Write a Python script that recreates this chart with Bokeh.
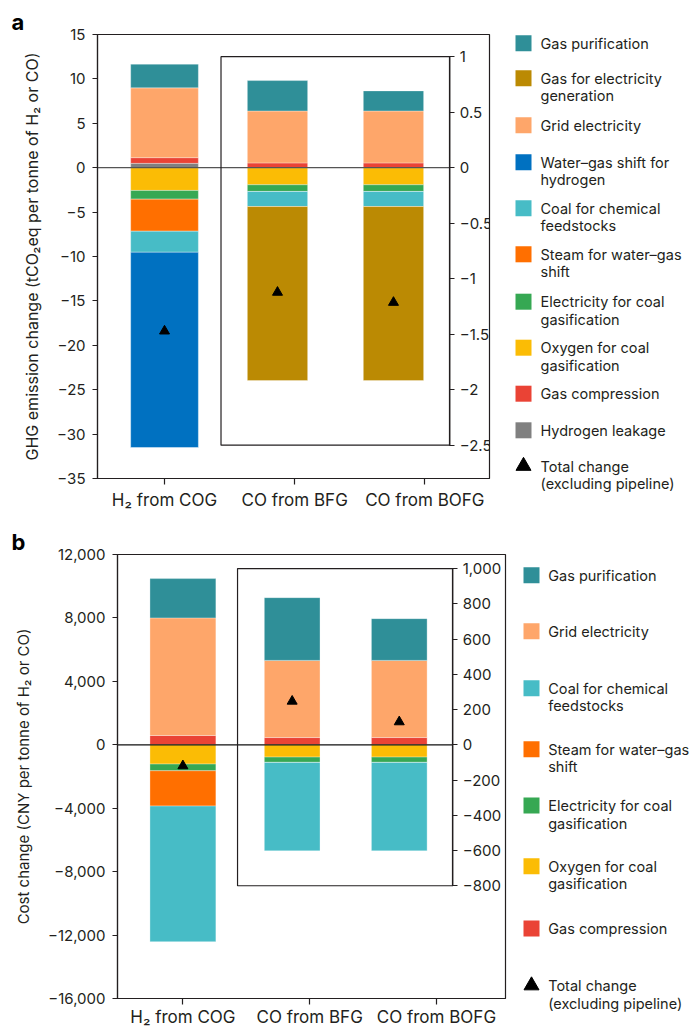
import numpy as np
from bokeh.plotting import figure
from bokeh.models import (Range1d, LinearAxis, FixedTicker, BoxAnnotation,
                          ColumnDataSource)
from bokeh.layouts import column, row
from bokeh.embed import file_html
from bokeh.resources import INLINE
from bokeh.core.properties import value

FONT = "Inter"

categories = ["H₂ from COG", "CO from BFG", "CO from BOFG"]

# ---- panel a: GHG emission change (H2 read on left axis, CO on right axis)
ghg_gas_purification = [2.67, 0.274, 0.181]
ghg_gas_for_electricity = [0.0, -1.567, -1.567]
ghg_grid_electricity = [7.86, 0.468, 0.468]
ghg_water_gas_shift = [-22.01, 0.0, 0.0]
ghg_coal_feedstocks = [-2.37, -0.136, -0.136]
ghg_steam_shift = [-3.61, 0.0, 0.0]
ghg_electricity_gasification = [-0.98, -0.060, -0.060]
ghg_oxygen_gasification = [-2.56, -0.154, -0.154]
ghg_gas_compression = [0.64, 0.043, 0.043]
ghg_hydrogen_leakage = [0.49, 0.0, 0.0]
ghg_total = [-18.4, -1.123, -1.214]
ghg_left_ticks = [-35, -30, -25, -20, -15, -10, -5, 0, 5, 10, 15]
ghg_right_ticks = [-2.5, -2, -1.5, -1, -0.5, 0, 0.5, 1]

# ---- panel b: cost change (H2 read on left axis, CO on right axis)
cost_gas_purification = [2477, 356, 237]
cost_grid_electricity = [7417, 438, 438]
cost_coal_feedstocks = [-8551, -502, -502]
cost_steam_shift = [-2225, 0, 0]
cost_electricity_gasification = [-422, -30, -30]
cost_oxygen_gasification = [-1216, -70, -70]
cost_gas_compression = [586, 41, 41]
cost_total = [-1330, 247, 130]
cost_left_ticks = [-16000, -12000, -8000, -4000, 0, 4000, 8000, 12000]
cost_right_ticks = [-800, -600, -400, -200, 0, 200, 400, 600, 800, 1000]

COLORS = {
    "purif": "#2f8f98", "gas_elec": "#bb8a03", "grid": "#fea66a",
    "wgs": "#0071c1", "coal": "#47bcc6", "steam": "#ff6f00",
    "elec": "#36a853", "oxygen": "#fbbc05", "comp": "#ea4335",
    "leak": "#808080",
}
LABELS = {
    "purif": ["Gas purification"],
    "gas_elec": ["Gas for electricity", "generation"],
    "grid": ["Grid electricity"],
    "wgs": ["Water–gas shift for", "hydrogen"],
    "coal": ["Coal for chemical", "feedstocks"],
    "steam": ["Steam for water–gas", "shift"],
    "elec": ["Electricity for coal", "gasification"],
    "oxygen": ["Oxygen for coal", "gasification"],
    "comp": ["Gas compression"],
    "leak": ["Hydrogen leakage"],
    "total": ["Total change", "(excluding pipeline)"],
}
TEXT = "#231f20"


def fmt(v):
    s = f"{v:,}" if isinstance(v, int) else f"{v:g}"
    return s.replace("-", "−")


def style_axis(ax, size="15px", label_size="16px"):
    ax.axis_line_color = TEXT
    ax.axis_line_width = 1.2
    ax.major_tick_line_color = TEXT
    ax.major_tick_line_width = 1.2
    ax.major_tick_in = 0
    ax.major_tick_out = 5
    ax.minor_tick_line_color = None
    ax.major_label_text_font = FONT
    ax.major_label_text_font_size = size
    ax.major_label_text_color = TEXT
    ax.axis_label_text_font = FONT
    ax.axis_label_text_font_style = "normal"
    ax.axis_label_text_font_size = label_size
    ax.axis_label_text_color = TEXT


def make_panel(letter, series, pos_order, neg_order, totals,
               left_ticks, right_ticks, ylabel, cfg):
    n = len(categories)
    x_main = [0]
    x_inset = list(range(n - 1))
    p = figure(frame_width=cfg["fw"], frame_height=cfg["fh"],
               x_range=Range1d(*cfg["xr"]), y_range=Range1d(*cfg["yr"]),
               min_border_left=cfg["bl"], min_border_right=cfg["br"],
               min_border_top=cfg["bt"], min_border_bottom=cfg["bb"],
               output_backend="svg", toolbar_location=None)
    p.extra_x_ranges = {"inset": Range1d(*cfg["xr_inset"])}
    p.extra_y_ranges = {"inset": Range1d(*cfg["yr_inset"])}
    p.grid.visible = False
    p.outline_line_color = TEXT
    p.outline_line_width = 1.2
    p.background_fill_color = "white"
    p.border_fill_color = "white"

    # panel letter
    p.title.text = letter
    p.title.align = "left"
    p.title.offset = cfg["lab_x"]
    p.title.standoff = 0
    p.title.text_font = FONT
    p.title.text_font_size = "22px"
    p.title.text_font_style = "bold"
    p.title.text_color = "black"

    for order in (pos_order, neg_order):
        base = np.zeros(n)
        for key in order:
            vals = np.array(series[key], dtype=float)
            bottom = base.copy()
            top = base + vals
            base = top
            for sel, xs, kw in ((slice(0, 1), x_main, {}),
                                (slice(1, n), x_inset,
                                 dict(x_range_name="inset", y_range_name="inset"))):
                src = ColumnDataSource(dict(x=xs, top=top[sel], bottom=bottom[sel]))
                p.vbar(x="x", top="top", bottom="bottom", width=0.52,
                       source=src, fill_color=COLORS[key], line_color="white",
                       line_alpha=0.4, line_width=0.8, **kw)

    # zero line, ending at the inset axis
    p.segment(x0=[cfg["xr"][0]], x1=[cfg["axis_x"]], y0=[0], y1=[0],
              line_color=cfg["zero_color"], line_width=1.3)

    p.scatter(x=x_main, y=totals[:1], marker="triangle", size=10,
              fill_color="black", line_color="black")
    p.scatter(x=x_inset, y=totals[1:], marker="triangle", size=10,
              fill_color="black", line_color="black",
              x_range_name="inset", y_range_name="inset")

    p.add_layout(BoxAnnotation(left=cfg["box_left"], right=cfg["axis_x"],
                               top=right_ticks[-1], bottom=right_ticks[0],
                               y_range_name="inset", fill_alpha=0,
                               line_color=TEXT, line_alpha=1.0, line_width=1.2))

    p.xaxis.ticker = FixedTicker(ticks=list(range(n)))
    p.xaxis.major_label_overrides = {i: c for i, c in enumerate(categories)}
    p.yaxis.ticker = FixedTicker(ticks=left_ticks)
    p.yaxis.major_label_overrides = {t: fmt(t) for t in left_ticks}
    p.yaxis.axis_label = ylabel
    style_axis(p.xaxis[0], "17px")
    style_axis(p.yaxis[0], "15px", cfg["ylab_size"])
    p.xaxis.major_tick_out = 6
    p.xaxis.major_label_standoff = cfg["xstand"]
    p.yaxis.major_label_standoff = 7
    p.yaxis.axis_label_standoff = 12

    ax = LinearAxis(y_range_name="inset", fixed_location=cfg["axis_x"],
                    bounds=(right_ticks[0], right_ticks[-1]),
                    ticker=FixedTicker(ticks=right_ticks),
                    major_label_overrides={t: fmt(t) for t in right_ticks})
    style_axis(ax)
    ax.major_label_standoff = 5
    p.add_layout(ax, "right")
    return p


def make_legend(keys, rows, cfg):
    """Legend drawn in its own figure, in pixel units (y downward)."""
    w, h = cfg["w"], cfg["h"]
    lg = figure(width=w, height=h, x_range=Range1d(0, w), y_range=Range1d(h, 0),
                min_border=0, x_axis_location=None, y_axis_location=None,
                output_backend="svg", toolbar_location=None)
    lg.frame_align = False
    lg.grid.visible = False
    lg.outline_line_color = None
    sx, tx, dy = cfg["sx"], cfg["tx"], cfg["dy"]
    sw_x, sw_y, sw_c = [], [], []
    t_x, t_y, t_s = [], [], []
    for key, y in zip(keys, rows):
        if key in COLORS:
            sw_x.append(sx); sw_y.append(y); sw_c.append(COLORS[key])
        for j, line in enumerate(LABELS[key]):
            t_x.append(tx); t_y.append(y + j * dy); t_s.append(line)
    lg.rect(x=sw_x, y=sw_y, width=16, height=16, fill_color=sw_c, line_color=None)
    lg.scatter(x=[sx], y=[rows[-1]], marker="triangle", size=15,
               fill_color="black", line_color="black")
    lg.text(x=t_x, y=t_y, text=t_s, text_font=value(FONT),
            text_font_size=value(cfg["fs"]), text_color=TEXT,
            text_baseline="middle", text_align="left")
    return lg


ghg_series = {
    "purif": ghg_gas_purification, "gas_elec": ghg_gas_for_electricity,
    "grid": ghg_grid_electricity, "wgs": ghg_water_gas_shift,
    "coal": ghg_coal_feedstocks, "steam": ghg_steam_shift,
    "elec": ghg_electricity_gasification, "oxygen": ghg_oxygen_gasification,
    "comp": ghg_gas_compression, "leak": ghg_hydrogen_leakage,
}
cost_series = {
    "purif": cost_gas_purification, "grid": cost_grid_electricity,
    "coal": cost_coal_feedstocks, "steam": cost_steam_shift,
    "elec": cost_electricity_gasification, "oxygen": cost_oxygen_gasification,
    "comp": cost_gas_compression,
}

cfg_a = dict(fw=392, fh=444, xr=(-0.515, 2.497), xr_inset=(-1.552, 1.828),
             yr=(-35, 15), yr_inset=(-2.8, 1.2), axis_x=2.192, box_left=0.434,
             bl=97, br=10, bt=34, bb=32, xstand=5, zero_color="#555555",
             lab_x=-86, ylab_size="16px")
cfg_b = dict(fw=388, fh=444, xr=(-0.516, 2.545), xr_inset=(-1.631, 1.992),
             yr=(-16000, 12000), yr_inset=(-1440, 1080), axis_x=2.129, box_left=0.431,
             bl=117, br=10, bt=42, bb=29, xstand=2, zero_color="#111111",
             lab_x=-106, ylab_size="15px")

p_a = make_panel("a", ghg_series,
                 ["leak", "comp", "grid", "purif"],
                 ["oxygen", "elec", "steam", "coal", "wgs", "gas_elec"],
                 ghg_total, ghg_left_ticks, ghg_right_ticks,
                 "GHG emission change (tCO₂eq per tonne of H₂ or CO)", cfg_a)
p_b = make_panel("b", cost_series,
                 ["comp", "grid", "purif"],
                 ["oxygen", "elec", "steam", "coal"],
                 cost_total, cost_left_ticks, cost_right_ticks,
                 "Cost change (CNY per tonne of H₂ or CO)", cfg_b)

legend_keys_a = ["purif", "gas_elec", "grid", "wgs", "coal", "steam", "elec",
                 "oxygen", "comp", "leak", "total"]
legend_keys_b = ["purif", "grid", "coal", "steam", "elec", "oxygen", "comp", "total"]
# legend row positions (layout, pixels from the top of each legend area)
rows_a = [42.7, 77.7, 124.7, 161.8, 207.8, 253.8, 301.2, 347.2, 393.2, 429.8, 465.5]
rows_b = [62.8, 118.8, 175.8, 236.8, 293.0, 353.8, 416.0, 473.0]

leg_a = make_legend(legend_keys_a, rows_a,
                    dict(w=193, h=510, sx=24, tx=41, dy=17.6, fs="14.5px"))
leg_b = make_legend(legend_keys_b, rows_b,
                    dict(w=177, h=515, sx=16, tx=32.7, dy=17.6, fs="14.5px"))

layout = column(row(p_a, leg_a, spacing=0), row(p_b, leg_b, spacing=0), spacing=0)
open("out.html", "w").write(file_html(layout, INLINE))
